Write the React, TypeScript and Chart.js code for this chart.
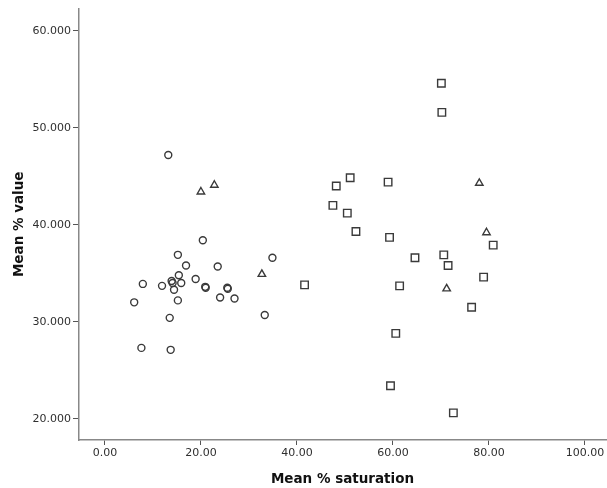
import React, { useEffect, useRef } from "react";
import { Chart, registerables } from "chart.js";

Chart.register(...registerables);

const circleX = [20.4, 15.2, 34.9, 16.9, 23.5, 15.4, 7.9, 11.9, 13.9, 14.1, 15.9, 18.9, 20.9, 21.0, 25.5, 25.6, 14.4, 6.1, 15.2, 24.0, 27.0, 13.5, 33.3, 7.6, 13.7, 13.2];
const circleY = [38.4, 36.9, 36.6, 35.8, 35.7, 34.8, 33.9, 33.7, 34.2, 34.0, 34.0, 34.4, 33.6, 33.5, 33.5, 33.4, 33.3, 32.0, 32.2, 32.5, 32.4, 30.4, 30.7, 27.3, 27.1, 47.2];

const squareX = [70.1, 70.2, 51.1, 48.2, 59.0, 47.5, 50.5, 52.3, 59.3, 64.6, 41.6, 61.4, 80.9, 70.6, 71.5, 78.9, 76.4, 60.6, 59.5, 72.6];
const squareY = [54.6, 51.6, 44.85, 44.0, 44.4, 42.0, 41.2, 39.3, 38.7, 36.6, 33.8, 33.7, 37.9, 36.9, 35.8, 34.6, 31.5, 28.8, 23.4, 20.6];

const triangleX = [32.7, 20.0, 22.8, 78.0, 79.5, 71.2];
const triangleY = [34.9, 43.4, 44.1, 44.3, 39.2, 33.4];

const xTicks = [0, 20, 40, 60, 80, 100];
const yTicks = [20, 30, 40, 50, 60];

const xTitle = "Mean % saturation";
const yTitle = "Mean % value";

const toPoints = (xs: number[], ys: number[]) => xs.map((x, i) => ({ x, y: ys[i] }));

export default function App() {
  const ref = useRef<HTMLCanvasElement | null>(null);

  useEffect(() => {
    if (!ref.current) return;
    const stroke = "#3a3a3a";
    const tickFont = { family: "DejaVu Sans", size: 11 };
    const titleFont = { family: "DejaVu Sans", size: 13.5, weight: "bold" as const };
    const chart = new Chart(ref.current, {
      type: "scatter",
      data: {
        datasets: [
          {
            label: "circles",
            data: toPoints(circleX, circleY),
            pointStyle: "circle",
            pointRadius: 3.5,
            borderColor: stroke,
            backgroundColor: "rgba(0,0,0,0)",
            borderWidth: 1.4,
          },
          {
            label: "squares",
            data: toPoints(squareX, squareY),
            pointStyle: "rect",
            pointRadius: 5.3,
            borderColor: stroke,
            backgroundColor: "rgba(0,0,0,0)",
            borderWidth: 1.4,
          },
          {
            label: "triangles",
            data: toPoints(triangleX, triangleY),
            pointStyle: "triangle",
            pointRadius: 4.3,
            borderColor: stroke,
            backgroundColor: "rgba(0,0,0,0)",
            borderWidth: 1.4,
          },
        ],
      },
      options: {
        animation: false,
        responsive: false,
        maintainAspectRatio: false,
        layout: { autoPadding: false, padding: { left: 0, top: 7, right: 1, bottom: 0 } },
        plugins: { legend: { display: false }, tooltip: { enabled: false } },
        scales: {
          x: {
            type: "linear",
            min: -5.4,
            max: 104.4,
            afterBuildTicks: (axis: any) => {
              axis.ticks = xTicks.map((v) => ({ value: v }));
            },
            afterFit: (axis: any) => {
              axis.height = 48;
            },
            ticks: {
              color: "#2f2f2f",
              font: tickFont,
              padding: 2,
              maxRotation: 0,
              callback: (v: any) => Number(v).toFixed(2),
            },
            grid: { display: true, drawOnChartArea: false, drawTicks: true, tickLength: 5, color: "#555", lineWidth: 1 },
            border: { display: true, color: "#888", width: 1.5 },
            title: { display: true, text: xTitle, color: "#111", font: titleFont, padding: { top: 2, bottom: 0 } },
          },
          y: {
            type: "linear",
            min: 17.8,
            max: 62.3,
            afterBuildTicks: (axis: any) => {
              axis.ticks = yTicks.map((v) => ({ value: v }));
            },
            afterFit: (axis: any) => {
              axis.width = 79;
            },
            ticks: {
              color: "#2f2f2f",
              font: tickFont,
              padding: 2,
              callback: (v: any) => Number(v).toFixed(3),
            },
            grid: { display: true, drawOnChartArea: false, drawTicks: true, tickLength: 6, color: "#555", lineWidth: 1 },
            border: { display: true, color: "#888", width: 1.5 },
            title: { display: true, text: yTitle, color: "#111", font: titleFont, padding: { top: 11, bottom: 0 } },
          },
        },
      },
    });
    return () => chart.destroy();
  }, []);

  return (
    <div style={{ position: "fixed", left: 0, top: 0, width: 607, height: 488, background: "#fff" }}>
      <canvas ref={ref} width={607} height={488} style={{ width: 607, height: 488, display: "block" }} />
    </div>
  );
}
